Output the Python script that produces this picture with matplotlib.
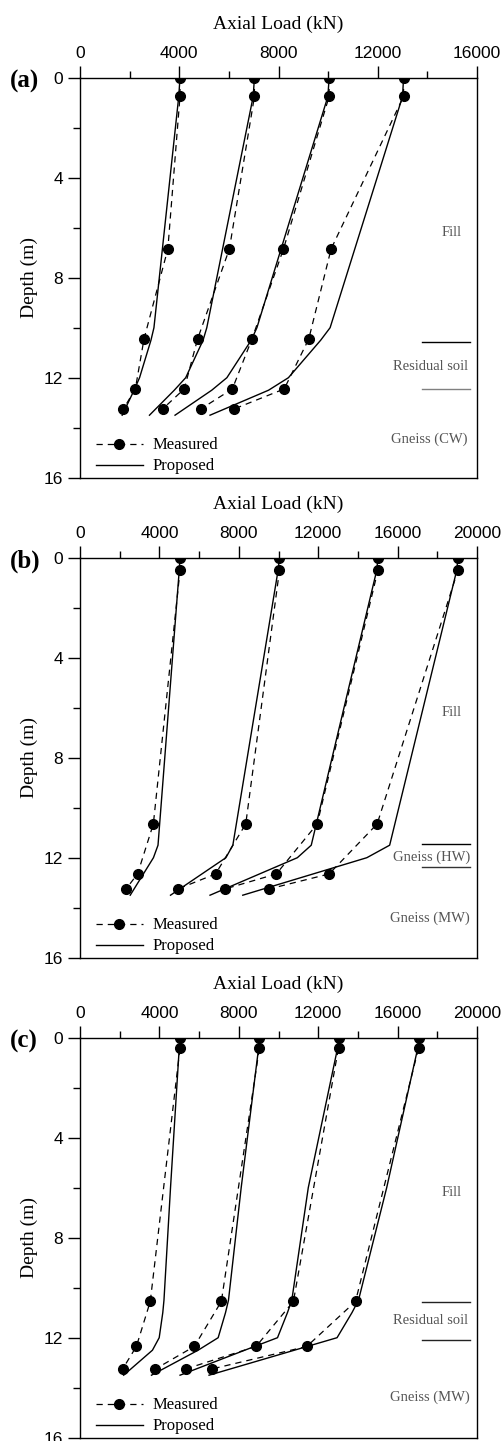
import numpy as np
import matplotlib
matplotlib.use("Agg")
import matplotlib.pyplot as plt
from matplotlib.ticker import MultipleLocator

plt.rcParams['font.family'] = 'Liberation Serif'

# ---- panel (a) ----
depth_meas_a = [0, 0.75, 6.85, 10.45, 12.45, 13.25]
meas_a = [
    [4030, 4030, 3540, 2580, 2230, 1750],
    [7030, 7030, 6020, 4740, 4200, 3330],
    [10040, 10040, 8200, 6930, 6140, 4870],
    [13040, 13040, 10120, 9220, 8230, 6210],
]
depth_prop_a = [0, 0.75, 10.0, 10.5, 12.0, 12.5, 13.5]
prop_a = [
    [4030, 3980, 2980, 2860, 2400, 2180, 1700],
    [7030, 6980, 5110, 4960, 4260, 3800, 2800],
    [10040, 9990, 7130, 6900, 5920, 5310, 3830],
    [13040, 13000, 10080, 9700, 8400, 7600, 5240],
]

# ---- panel (b) ----
depth_meas_b = [0, 0.5, 10.65, 12.65, 13.25]
meas_b = [
    [5040, 5040, 3695, 2900, 2320],
    [10050, 10050, 8350, 6830, 4940],
    [15010, 15010, 11950, 9890, 7310],
    [19040, 19040, 14970, 12550, 9525],
]
depth_prop_b = [0, 0.5, 11.5, 12.0, 13.5]
prop_b = [
    [5040, 5000, 3930, 3700, 2530],
    [10050, 9980, 7700, 7350, 4560],
    [15010, 14950, 11650, 10950, 6550],
    [19040, 18980, 15600, 14450, 8200],
]

# ---- panel (c) ----
depth_meas_c = [0, 0.4, 10.55, 12.35, 13.25]
meas_c = [
    [5040, 5040, 3540, 2840, 2150],
    [9040, 9040, 7120, 5760, 3800],
    [13025, 13025, 10750, 8870, 5325],
    [17060, 17060, 13880, 11425, 6650],
]
depth_prop_c = [0, 0.4, 6.0, 10.5, 11.0, 12.0, 12.5, 13.5]
prop_c = [
    [5040, 5000, 4560, 4230, 4170, 3990, 3650, 2200],
    [9040, 9000, 8120, 7480, 7330, 6960, 5950, 3600],
    [13025, 12980, 11500, 10670, 10450, 9950, 8300, 5040],
    [17060, 17020, 15450, 14030, 13700, 12950, 10800, 6500],
]

# soil layers: (label, depth, x right in axes fraction)
layers_a = [("Fill", 6.2, 0.962), ("Residual soil", 11.56, 0.978), ("Gneiss (CW)", 14.45, 0.976)]
bounds_a = [(10.58, "black"), (12.45, "#808080")]
layers_b = [("Fill", 6.2, 0.962), ("Gneiss (HW)", 11.98, 0.982), ("Gneiss (MW)", 14.43, 0.982)]
bounds_b = [(11.47, "black"), (12.36, "#333333")]
layers_c = [("Fill", 6.2, 0.962), ("Residual soil", 11.33, 0.977), ("Gneiss (MW)", 14.39, 0.982)]
bounds_c = [(10.56, "#222222"), (12.09, "#222222")]

panels = [
    ("(a)", 16000, depth_meas_a, meas_a, depth_prop_a, prop_a, layers_a, bounds_a),
    ("(b)", 20000, depth_meas_b, meas_b, depth_prop_b, prop_b, layers_b, bounds_b),
    ("(c)", 20000, depth_meas_c, meas_c, depth_prop_c, prop_c, layers_c, bounds_c),
]

fig = plt.figure(figsize=(5.01, 14.41), dpi=100)
W, H = 501.0, 1441.0
tops = [77.7, 557.7, 1037.7]
dash = (5, 4)

for (lab, xmax, dm, meas, dp, prop, layers, bounds), top in zip(panels, tops):
    ax = fig.add_axes([80 / W, 1 - (top + 400) / H, 397 / W, 400 / H])
    for m in meas:
        ax.plot(m, dm, color='black', lw=0.9, dashes=dash,
                marker='o', ms=7, mfc='black', mec='black')
    for p in prop:
        ax.plot(p, dp, color='black', lw=1.0)

    ax.set_xlim(0, xmax)
    ax.set_ylim(16, 0)
    ax.xaxis.tick_top()
    ax.xaxis.set_label_position('top')
    ax.xaxis.set_major_locator(MultipleLocator(4000))
    ax.xaxis.set_minor_locator(MultipleLocator(2000))
    ax.yaxis.set_major_locator(MultipleLocator(4))
    ax.yaxis.set_minor_locator(MultipleLocator(2))
    ax.tick_params(which='major', direction='out', length=9, width=1, pad=3)
    ax.tick_params(which='minor', direction='out', length=5, width=1)
    for t in ax.get_xticklabels() + ax.get_yticklabels():
        t.set_fontfamily('Liberation Sans')
        t.set_fontsize(12.5)
    for s in ax.spines.values():
        s.set_linewidth(1.0)

    ax.set_xlabel('Axial Load (kN)', fontsize=14, labelpad=12)
    ax.set_ylabel('Depth (m)', fontsize=14, labelpad=4)
    ax.text(-0.176, 0.99, lab, transform=ax.transAxes, fontsize=18,
            fontweight='bold', ha='left', va='center')

    tr = ax.get_yaxis_transform()
    for name, d, xr in layers:
        ax.text(xr, d, name, transform=tr, ha='right', va='center',
                fontsize=10.5, color='#555555')
    for d, c in bounds:
        ax.plot([0.861, 0.982], [d, d], transform=tr, color=c, lw=1.0)

    h1, = ax.plot([], [], color='black', lw=0.9, dashes=dash,
                  marker='o', ms=7)
    h2, = ax.plot([], [], color='black', lw=1.0)
    ax.legend([h1, h2], ['Measured', 'Proposed'], loc='lower left',
              bbox_to_anchor=(0.032, 0.0), frameon=False, fontsize=12,
              handlelength=2.8, handletextpad=0.6, labelspacing=0.3,
              borderpad=0.2, borderaxespad=0.0, numpoints=1)

fig.savefig('out.png', dpi=100)
